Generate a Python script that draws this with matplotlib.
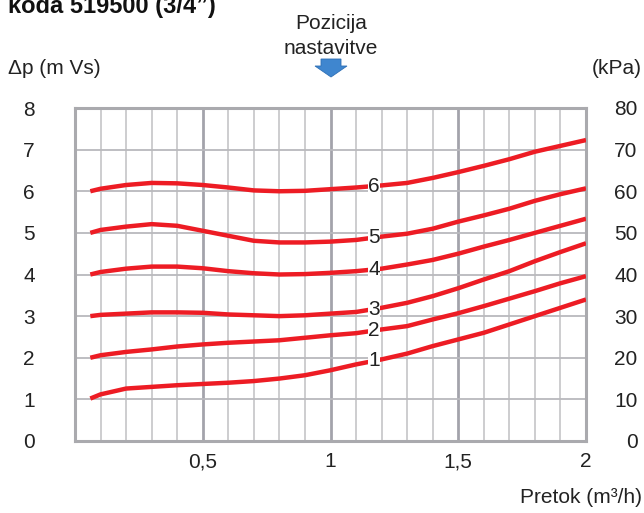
import numpy as np
import matplotlib
matplotlib.use('Agg')
import matplotlib.pyplot as plt
from matplotlib.patches import Polygon

plt.rcParams['font.family'] = ['Liberation Sans', 'DejaVu Sans']

# flow (m3/h) and pressure drop (m Vs) for each setting position
flow = [0.06, 0.1, 0.2, 0.3, 0.4, 0.5, 0.6, 0.7, 0.8, 0.9, 1.0,
        1.1, 1.2, 1.3, 1.4, 1.5, 1.6, 1.7, 1.8, 1.9, 2.0]
pos1 = [1.02, 1.12, 1.26, 1.30, 1.34, 1.37, 1.40, 1.44, 1.50, 1.58, 1.70,
        1.84, 1.96, 2.10, 2.28, 2.44, 2.60, 2.80, 3.00, 3.20, 3.40]
pos2 = [2.00, 2.06, 2.14, 2.20, 2.27, 2.32, 2.36, 2.39, 2.42, 2.48, 2.54,
        2.59, 2.68, 2.76, 2.92, 3.07, 3.24, 3.42, 3.60, 3.79, 3.96]
pos3 = [3.00, 3.03, 3.06, 3.09, 3.09, 3.08, 3.04, 3.02, 3.00, 3.02, 3.06,
        3.10, 3.20, 3.32, 3.48, 3.67, 3.88, 4.08, 4.32, 4.54, 4.75]
pos4 = [4.00, 4.06, 4.14, 4.19, 4.19, 4.15, 4.08, 4.03, 4.00, 4.01, 4.04,
        4.08, 4.14, 4.24, 4.35, 4.50, 4.67, 4.83, 5.00, 5.17, 5.34]
pos5 = [5.00, 5.07, 5.15, 5.21, 5.17, 5.05, 4.93, 4.81, 4.77, 4.77, 4.79,
        4.83, 4.91, 4.98, 5.10, 5.27, 5.42, 5.58, 5.77, 5.93, 6.07]
pos6 = [6.00, 6.06, 6.15, 6.20, 6.19, 6.15, 6.09, 6.02, 6.00, 6.01, 6.05,
        6.09, 6.14, 6.20, 6.32, 6.46, 6.61, 6.77, 6.95, 7.09, 7.23]
curve_labels = ['1', '2', '3', '4', '5', '6']
label_flow = 1.17

xticks = [0.5, 1, 1.5, 2]
xticklabels = ['0,5', '1', '1,5', '2']
yticks = list(range(0, 9))
kpa_ticks = list(range(0, 90, 10))

red = '#ed1c24'
fs = 15

fig = plt.figure(figsize=(6.44, 5.13), dpi=100)
ax = fig.add_axes([75 / 644, 1 - 441 / 513, 511 / 644, 333 / 513])
ax.set_xlim(0, 2)
ax.set_ylim(0, 8)

# grid
for xv in np.arange(0.1, 2.0, 0.1):
    major = abs(xv * 2 - round(xv * 2)) < 1e-6
    ax.axvline(xv, color='#a3a3ab' if major else '#c9c9cc',
               lw=2.0 if major else 1.3, zorder=1)
for yv in range(1, 8):
    ax.axhline(yv, color='#b9b9bd', lw=1.3, zorder=1)
for sp in ax.spines.values():
    sp.set_color('#aaaaae')
    sp.set_linewidth(2.2)

for vals, lab in zip([pos1, pos2, pos3, pos4, pos5, pos6], curve_labels):
    ax.plot(flow, vals, color=red, lw=3.2, solid_capstyle='butt',
            solid_joinstyle='round', zorder=3)
    ax.text(label_flow, np.interp(label_flow, flow, vals), lab, fontsize=fs,
            ha='center', va='center', color='#222222', zorder=4,
            bbox=dict(facecolor='white', edgecolor='none', pad=0.2))

ax.set_xticks(xticks)
ax.set_xticklabels(xticklabels)
ax.set_yticks(yticks)
ax.tick_params(axis='both', length=0, labelsize=fs, colors='#222222')
ax.tick_params(axis='x', pad=8)
ax.tick_params(axis='y', pad=33)
for t in ax.get_yticklabels():
    t.set_ha('center')

ax2 = ax.twinx()
ax2.set_ylim(0, 80)
ax2.set_yticks(kpa_ticks)
ax2.tick_params(axis='y', length=0, labelsize=fs, colors='#222222', pad=37)
for t in ax2.get_yticklabels():
    t.set_ha('right')
for sp in ax2.spines.values():
    sp.set_visible(False)

# texts around the chart
fig.text(8 / 644, 1 - 13 / 513, 'koda 519500 (3/4\u201d)', fontsize=17,
         fontweight='bold', ha='left', va='baseline', color='#111111')
fig.text(331 / 644, 1 - 29 / 513, 'Pozicija', fontsize=fs, ha='center',
         va='baseline', color='#222222')
fig.text(331 / 644, 1 - 54 / 513, 'nastavitve', fontsize=fs, ha='center',
         va='baseline', color='#222222')
fig.text(8 / 644, 1 - 74 / 513, '\u0394p (m Vs)', fontsize=fs, ha='left',
         va='baseline', color='#222222')
fig.text(642 / 644, 1 - 74 / 513, '(kPa)', fontsize=fs, ha='right',
         va='baseline', color='#222222')
fig.text(642 / 644, 1 - 503 / 513, 'Pretok (m\u00b3/h)', fontsize=fs,
         ha='right', va='baseline', color='#222222')

# blue arrow under "Pozicija nastavitve"
arrow_px = [(321, 59), (341, 59), (341, 66), (347, 66), (331, 77),
            (315, 66), (321, 66)]
arrow = Polygon([(px / 644, 1 - py / 513) for px, py in arrow_px],
                closed=True, transform=fig.transFigure,
                facecolor='#3f86cf', edgecolor='#2e6fb5', lw=0.6)
fig.patches.append(arrow)

plt.savefig('out.png', dpi=100)
